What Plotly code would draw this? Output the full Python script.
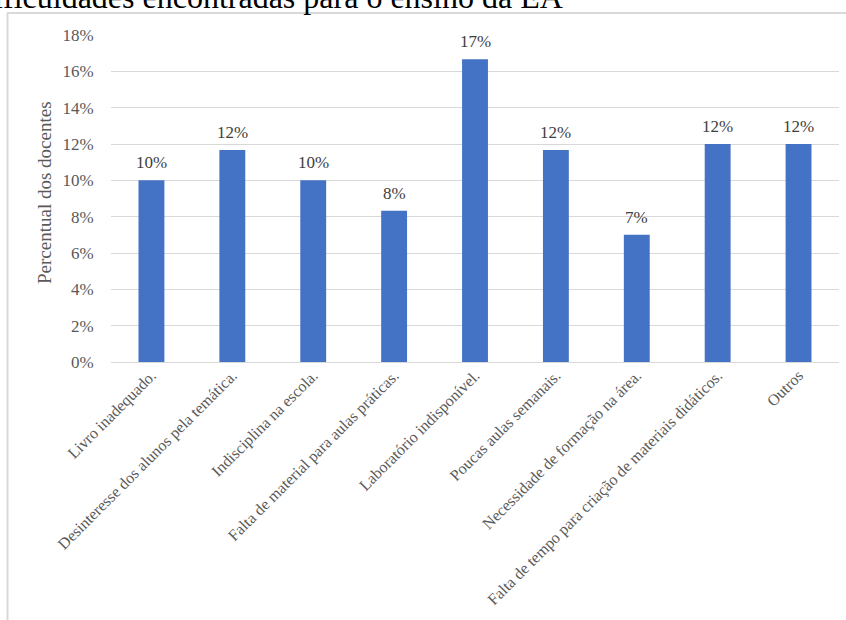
import plotly.graph_objects as go

# Dificuldades apontadas pelos docentes (fração do total de respostas)
categorias = [
    "Livro inadequado.",
    "Desinteresse dos alunos pela temática.",
    "Indisciplina na escola.",
    "Falta de material para aulas práticas.",
    "Laboratório indisponível.",
    "Poucas aulas semanais.",
    "Necessidade de formação na área.",
    "Falta de tempo para criação de materiais didáticos.",
    "Outros",
]
percentuais = [0.10, 0.1167, 0.10, 0.0833, 0.1667, 0.1167, 0.07, 0.12, 0.12]

titulo = "Dificuldades encontradas para o ensino da EA"
titulo_eixo_y = "Percentual dos docentes"

SERIF = "Liberation Serif, Times New Roman, serif"
W, H = 846, 620
L, R, T, B = 111, 7, 35, 258
PW, PH = W - L - R, H - T - B


def px_x(px):
    return (px - L) / PW


def px_y(py):
    return (H - B - py) / PH


fig = go.Figure(
    go.Bar(
        x=categorias,
        y=percentuais,
        marker=dict(color="#4472C4", line=dict(width=0)),
        hoverinfo="skip",
    )
)

# rótulos de valor acima de cada barra
for cat, val in zip(categorias, percentuais):
    fig.add_annotation(
        x=cat, y=val, xref="x", yref="y",
        text=f"{val:.0%}", showarrow=False,
        yanchor="bottom", yshift=6,
        font=dict(family=SERIF, size=17, color="#404040"),
    )

# título do eixo vertical
fig.add_annotation(
    x=px_x(45), y=px_y(193), xref="paper", yref="paper",
    text=titulo_eixo_y, textangle=-90, showarrow=False,
    xanchor="center", yanchor="middle",
    font=dict(family=SERIF, size=19, color="#595959"),
)

# título do gráfico
fig.add_annotation(
    x=px_x(565), y=px_y(17), xref="paper", yref="paper",
    text=titulo, showarrow=False,
    xanchor="right", yanchor="bottom",
    font=dict(family=SERIF, size=32, color="#000000"),
)

# moldura da área do gráfico
fig.add_shape(type="line", xref="paper", yref="paper",
              x0=px_x(7.5), x1=px_x(7.5), y0=px_y(13), y1=px_y(640),
              line=dict(color="#d9d9d9", width=2))
fig.add_shape(type="line", xref="paper", yref="paper",
              x0=px_x(7), x1=px_x(860), y0=px_y(13), y1=px_y(13),
              line=dict(color="#d9d9d9", width=2))

fig.update_layout(
    width=W, height=H,
    margin=dict(l=L, r=R, t=T, b=B, pad=0),
    paper_bgcolor="white", plot_bgcolor="white",
    showlegend=False,
    bargap=0.68,
    font=dict(family=SERIF, color="#595959"),
    xaxis=dict(
        tickangle=-45,
        tickfont=dict(family=SERIF, size=16, color="#595959"),
        showgrid=False, showline=False, zeroline=False,
        ticks="",
        fixedrange=True,
    ),
    yaxis=dict(
        range=[0, 0.18], dtick=0.02, tickformat=".0%",
        tickfont=dict(family=SERIF, size=17, color="#595959"),
        showgrid=True, gridcolor="#d9d9d9", gridwidth=1,
        zeroline=True, zerolinecolor="#d9d9d9", zerolinewidth=1,
        showline=False,
        ticks="outside", ticklen=13, tickcolor="rgba(0,0,0,0)",
        fixedrange=True,
    ),
)

fig.write_html("out.html", config={"displayModeBar": False})
